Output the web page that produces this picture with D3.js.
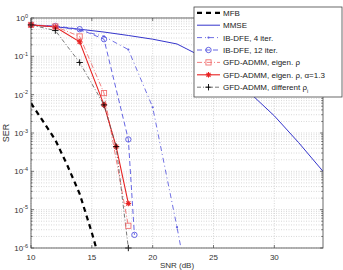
<!DOCTYPE html>
<html>
<head>
<meta charset="utf-8">
<script src="https://cdn.jsdelivr.net/npm/d3@7"></script>
<style>
  html, body { margin: 0; padding: 0; background: #fff; }
  svg { display: block; font-family: "Liberation Sans", Arial, sans-serif; }
</style>
</head>
<body>
<div id="container"></div>
<script>
/* ---------------- DATA ---------------- */
const xTicks = [10, 15, 20, 25, 30];
const yExps = [0, -1, -2, -3, -4, -5, -6];

const snrMfb = [10, 11, 12, 13, 14, 15, 15.4];
const serMfb = [6.0e-3, 2.0e-3, 6.6e-4, 1.4e-4, 2.6e-5, 2.5e-6, 9e-7];

const snrMmse = [10, 12, 14, 16, 18, 20, 22, 24, 26, 28, 30, 32, 34];
const serMmse = [0.66, 0.59, 0.51, 0.43, 0.35, 0.28, 0.21, 0.10, 0.035, 0.011, 2.8e-3, 5.6e-4, 1.0e-4];

const snrIb4 = [10, 12, 14, 16, 18, 20, 22, 22.5];
const serIb4 = [0.66, 0.60, 0.48, 0.33, 0.15, 4.7e-3, 3.5e-6, 5e-7];

const snrIb12 = [10, 12, 14, 16, 18, 18.5];
const serIb12 = [0.66, 0.62, 0.51, 0.28, 6.8e-4, 2.2e-6];

const snrEig = [10, 12, 14, 16, 18];
const serEig = [0.66, 0.60, 0.33, 0.011, 3.8e-6];

const snrAlpha = [10, 12, 14, 16, 17, 18];
const serAlpha = [0.66, 0.58, 0.24, 5.4e-3, 4.4e-4, 1.45e-5];

const snrDiff = [10, 12, 14, 16, 17, 18];
const serDiff = [0.66, 0.47, 0.069, 5.4e-3, 4.4e-4, 1.0e-6];

const series = [
  { name: "MFB", x: snrMfb, y: serMfb, color: "#000", width: 2.2, dash: "5,4", marker: null },
  { name: "MMSE", x: snrMmse, y: serMmse, color: "#3535cc", width: 1, dash: null, marker: null },
  { name: "IB-DFE, 4 iter.", x: snrIb4, y: serIb4, color: "#6060e0", width: 0.9, dash: "5,3,1,3", marker: "dot" },
  { name: "IB-DFE, 12 iter.", x: snrIb12, y: serIb12, color: "#5555e0", width: 0.9, dash: "5,3", marker: "circle" },
  { name: "GFD-ADMM, eigen. ρ", x: snrEig, y: serEig, color: "#f07070", width: 0.9, dash: "5,2,1,2", marker: "square" },
  { name: "GFD-ADMM, eigen. ρ, α=1.3", x: snrAlpha, y: serAlpha, color: "#e82222", width: 1.1, dash: null, marker: "star" },
  { name: "GFD-ADMM, different ρ", sub: "i", x: snrDiff, y: serDiff, color: "#555", width: 0.8, dash: "4,2,1,2", marker: "plus", markerColor: "#000" }
];

/* ---------------- LAYOUT ---------------- */
const W = 343, H = 270;
const pL = 31, pR = 323, pT = 18, pB = 248;

const svg = d3.select("#container").append("svg")
  .attr("width", W)
  .attr("height", H);

const x = d3.scaleLinear().domain([10, 34]).range([pL, pR]);
const y = d3.scaleLog().domain([1e-6, 1]).range([pB, pT]);

/* ---------------- GRID ---------------- */
const grid = svg.append("g")
  .attr("stroke", "#bdbdbd")
  .attr("stroke-width", 0.6)
  .attr("stroke-dasharray", "1,1.5");

const minorVals = [];
for (let e = -6; e < 0; e++) {
  for (let k = 1; k <= 9; k++) minorVals.push(k * Math.pow(10, e));
}
minorVals.push(1);

grid.selectAll("line.h")
  .data(minorVals)
  .enter()
  .append("line")
  .attr("x1", pL).attr("x2", pR)
  .attr("y1", d => y(d)).attr("y2", d => y(d));

grid.selectAll("line.v")
  .data(xTicks)
  .enter()
  .append("line")
  .attr("x1", d => x(d)).attr("x2", d => x(d))
  .attr("y1", pT).attr("y2", pB);

/* ---------------- TICKS ---------------- */
const ticks = svg.append("g").attr("stroke", "#444").attr("stroke-width", 0.7);

xTicks.forEach(t => {
  ticks.append("line").attr("x1", x(t)).attr("x2", x(t)).attr("y1", pB).attr("y2", pB - 3);
  ticks.append("line").attr("x1", x(t)).attr("x2", x(t)).attr("y1", pT).attr("y2", pT + 3);
});

minorVals.forEach(v => {
  const major = Math.abs(Math.log10(v) - Math.round(Math.log10(v))) < 1e-9;
  const len = major ? 3 : 1.6;
  ticks.append("line").attr("x1", pL).attr("x2", pL + len).attr("y1", y(v)).attr("y2", y(v));
  ticks.append("line").attr("x1", pR).attr("x2", pR - len).attr("y1", y(v)).attr("y2", y(v));
});

/* ---------------- CURVES ---------------- */
svg.append("defs").append("clipPath").attr("id", "plotclip")
  .append("rect")
  .attr("x", pL).attr("y", pT)
  .attr("width", pR - pL).attr("height", pB - pT);

const line = d3.line()
  .x(d => x(d[0]))
  .y(d => y(d[1]));

const curves = svg.append("g").attr("clip-path", "url(#plotclip)");

function drawMarker(g, type, cx, cy, color) {
  if (type === "dot") {
    g.append("circle").attr("cx", cx).attr("cy", cy).attr("r", 1.1).attr("fill", color);
  } else if (type === "circle") {
    g.append("circle").attr("cx", cx).attr("cy", cy).attr("r", 2.7)
      .attr("fill", "none").attr("stroke", color).attr("stroke-width", 0.9);
  } else if (type === "square") {
    g.append("rect").attr("x", cx - 2.6).attr("y", cy - 2.6).attr("width", 5.2).attr("height", 5.2)
      .attr("fill", "none").attr("stroke", color).attr("stroke-width", 0.9);
  } else if (type === "star") {
    const s = 2.8;
    [[-s, 0, s, 0], [0, -s, 0, s], [-s * 0.72, -s * 0.72, s * 0.72, s * 0.72], [-s * 0.72, s * 0.72, s * 0.72, -s * 0.72]]
      .forEach(p => g.append("line")
        .attr("x1", cx + p[0]).attr("y1", cy + p[1]).attr("x2", cx + p[2]).attr("y2", cy + p[3])
        .attr("stroke", color).attr("stroke-width", 1.1));
  } else if (type === "plus") {
    const s = 3.2;
    g.append("line").attr("x1", cx - s).attr("x2", cx + s).attr("y1", cy).attr("y2", cy)
      .attr("stroke", color).attr("stroke-width", 0.9);
    g.append("line").attr("x1", cx).attr("x2", cx).attr("y1", cy - s).attr("y2", cy + s)
      .attr("stroke", color).attr("stroke-width", 0.9);
  }
}

const markers = svg.append("g");

series.forEach(s => {
  const pts = s.x.map((v, i) => [v, s.y[i]]);
  curves.append("path")
    .attr("d", line(pts))
    .attr("fill", "none")
    .attr("stroke", s.color)
    .attr("stroke-width", s.width)
    .attr("stroke-dasharray", s.dash);

  if (s.marker) {
    pts.filter(p => p[1] >= 0.99e-6 && p[0] <= 34).forEach(p =>
      drawMarker(markers, s.marker, x(p[0]), y(p[1]), s.markerColor || s.color));
  }
});

/* ---------------- FRAME ---------------- */
svg.append("rect")
  .attr("x", pL).attr("y", pT)
  .attr("width", pR - pL).attr("height", pB - pT)
  .attr("fill", "none")
  .attr("stroke", "#444")
  .attr("stroke-width", 0.8);

/* ---------------- TICK LABELS ---------------- */
svg.append("g")
  .selectAll("text")
  .data(xTicks)
  .enter()
  .append("text")
  .attr("x", d => x(d))
  .attr("y", pB + 12)
  .attr("text-anchor", "middle")
  .attr("font-size", 8)
  .attr("fill", "#333")
  .text(d => d);

const yl = svg.append("g").attr("fill", "#333");
yExps.forEach(e => {
  const t = yl.append("text")
    .attr("x", pL - 3)
    .attr("y", y(Math.pow(10, e)) + 3)
    .attr("text-anchor", "end")
    .attr("font-size", 8);
  t.append("tspan").text("10");
  t.append("tspan").attr("dy", -3.5).attr("font-size", 5.5).text(e === 0 ? "0" : "-" + Math.abs(e));
});

/* ---------------- AXIS LABELS ---------------- */
svg.append("text")
  .attr("x", (pL + pR) / 2)
  .attr("y", 268)
  .attr("text-anchor", "middle")
  .attr("font-size", 8)
  .attr("fill", "#333")
  .text("SNR (dB)");

svg.append("text")
  .attr("transform", `translate(9,${(pT + pB) / 2}) rotate(-90)`)
  .attr("text-anchor", "middle")
  .attr("font-size", 9)
  .attr("fill", "#333")
  .text("SER");

/* ---------------- LEGEND ---------------- */
const lg = svg.append("g");
lg.append("rect")
  .attr("x", 194).attr("y", 7)
  .attr("width", 148).attr("height", 90)
  .attr("fill", "#fff")
  .attr("stroke", "#444")
  .attr("stroke-width", 0.8);

series.forEach((s, i) => {
  const cy = 12.8 + i * 12.4;
  lg.append("line")
    .attr("x1", 197).attr("x2", 220)
    .attr("y1", cy).attr("y2", cy)
    .attr("stroke", s.color)
    .attr("stroke-width", s.width)
    .attr("stroke-dasharray", s.dash);
  if (s.marker) drawMarker(lg, s.marker, 208.5, cy, s.markerColor || s.color);
  const t = lg.append("text")
    .attr("x", 223)
    .attr("y", cy + 3)
    .attr("font-size", 8)
    .attr("fill", "#222")
    .text(s.name);
  if (s.sub) {
    t.append("tspan").attr("dy", 2.5).attr("font-size", 5.5).text(s.sub);
  }
});
</script>
</body>
</html>
